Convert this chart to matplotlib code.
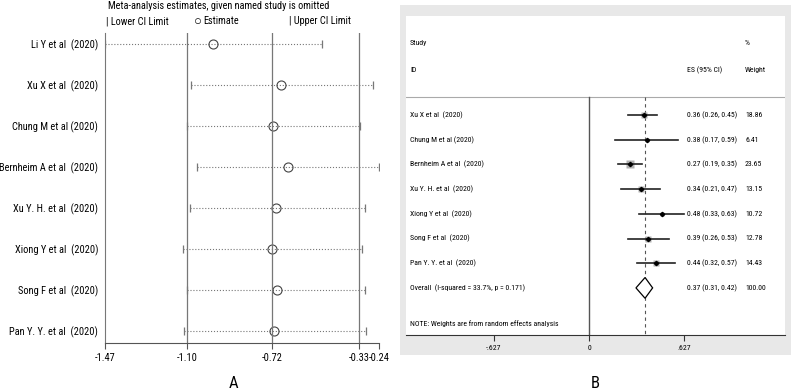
import numpy as np
import matplotlib
matplotlib.use('Agg')
import matplotlib.pyplot as plt
from matplotlib.patches import Polygon

# panel A: leave-one-out sensitivity
studies_a = ['Li Y et al  (2020)', 'Xu X et al  (2020)', 'Chung M et al (2020)',
             'Bernheim A et al  (2020)', 'Xu Y. H. et al  (2020)', 'Xiong Y et al  (2020)',
             'Song F et al  (2020)', 'Pan Y. Y. et al  (2020)']
a_est = [-0.983, -0.680, -0.716, -0.649, -0.702, -0.720, -0.700, -0.711]
a_lo = [-1.47, -1.086, -1.104, -1.055, -1.090, -1.122, -1.100, -1.117]
a_hi = [-0.497, -0.269, -0.327, -0.240, -0.305, -0.318, -0.305, -0.300]
a_ticks = [-1.47, -1.10, -0.72, -0.33, -0.24]
a_lines = [-1.10, -0.72, -0.33]

# panel B: forest plot
studies_b = ['Xu X et al  (2020)', 'Chung M et al (2020)', 'Bernheim A et al  (2020)',
             'Xu Y. H. et al  (2020)', 'Xiong Y et al  (2020)', 'Song F et al  (2020)',
             'Pan Y. Y. et al  (2020)']
b_es = [0.36, 0.38, 0.27, 0.34, 0.48, 0.39, 0.44]
b_lo = [0.26, 0.17, 0.19, 0.21, 0.33, 0.26, 0.32]
b_hi = [0.45, 0.59, 0.35, 0.47, 0.63, 0.53, 0.57]
b_w = [18.86, 6.41, 23.65, 13.15, 10.72, 12.78, 14.43]
overall = (0.37, 0.31, 0.42)
overall_lbl = 'Overall  (I-squared = 33.7%, p = 0.171)'
b_ticks = [-0.627, 0, 0.627]
b_ticklabels = ['-.627', '0', '.627']

FONT = ['Roboto Condensed', 'Liberation Sans Narrow', 'Liberation Sans']
plt.rcParams['font.family'] = FONT

W, H = 791, 392
fig = plt.figure(figsize=(W / 100, H / 100), dpi=100)


def rect(x0, y0, x1, y1):
    return [x0 / W, 1 - y1 / H, (x1 - x0) / W, (y1 - y0) / H]


# gray frame behind panel B
bg = fig.add_axes(rect(400, 5, 791, 355))
bg.set_facecolor('#e8e8e8')
bg.set_xticks([])
bg.set_yticks([])
for s in bg.spines.values():
    s.set_visible(False)

# ---------------- panel A
fa = 7.5
ax = fig.add_axes(rect(105, 33, 379, 343))
n = len(studies_a)
ys = np.arange(n)[::-1] + 1
for y, lo, est, hi in zip(ys, a_lo, a_est, a_hi):
    ax.plot([lo, hi], [y, y], ls=':', color='#777777', lw=0.8)
    ax.plot([lo, hi], [y, y], ls='none', marker='|', ms=6, color='#777777', mew=0.9)
    ax.plot(est, y, marker='o', ms=6.5, mfc='none', mec='#444444', mew=0.8)
for v in a_lines:
    ax.axvline(v, color='#777777', lw=0.9)
ax.set_xlim(a_ticks[0], a_ticks[-1])
ax.set_ylim(0.71, n + 0.27)
ax.set_yticks(ys)
ax.set_yticklabels(studies_a, fontsize=fa)
ax.set_xticks(a_ticks)
ax.set_xticklabels(['%.2f' % t for t in a_ticks], fontsize=fa)
ax.tick_params(axis='y', length=0, pad=5)
ax.tick_params(axis='x', length=4, color='#555555', pad=3)
for s in ['top', 'right']:
    ax.spines[s].set_visible(False)
ax.spines['left'].set_color('#777777')
ax.spines['bottom'].set_color('#555555')

fl = 7.4
fig.text(219 / W, 1 - 6 / H, 'Meta-analysis estimates, given named study is omitted',
         ha='center', va='center', fontsize=fl)
fig.text(106 / W, 1 - 21 / H, '| Lower CI Limit', ha='left', va='center', fontsize=fl)
fig.text(194 / W, 1 - 21 / H, '\u25cb', ha='left', va='center', fontsize=9.5)
fig.text(203 / W, 1 - 21 / H, 'Estimate', ha='left', va='center', fontsize=fl)
fig.text(289 / W, 1 - 21 / H, '| Upper CI Limit', ha='left', va='center', fontsize=fl)
fig.text(233 / W, 1 - 384 / H, 'A', ha='center', va='center', fontsize=12)

# ---------------- panel B
bx = fig.add_axes(rect(406, 16, 785, 335))
px_per_unit = 151.5
bx.set_xlim((406 - 589) / px_per_unit, (785 - 589) / px_per_unit)
row = 24.7
top, bot = (16 - 115) / row, (335 - 115) / row
bx.set_ylim(bot, top)
sep = (97 - 115) / row

bx.axhline(sep, color='#aaaaaa', lw=0.8)
bx.plot([0, 0], [sep, bot], color='#555555', lw=1.0)
bx.plot([overall[0]] * 2, [sep, bot], color='#555555', lw=0.8, ls=(0, (3, 3)))

for i, (es, lo, hi, w) in enumerate(zip(b_es, b_lo, b_hi, b_w)):
    bx.plot([lo, hi], [i, i], color='#222222', lw=1.2, zorder=3)
    bx.plot(es, i, marker='s', ms=5.2 * np.sqrt(w / 23.65), mfc='#b0b0b0', mec='none', zorder=2)
    bx.plot(es, i, marker='D', ms=2.2, color='black', zorder=4)

k = len(studies_b)
es, lo, hi = overall
bx.add_patch(Polygon([(lo, k), (es, k - 0.42), (hi, k), (es, k + 0.42)],
                     closed=True, fc='white', ec='black', lw=0.9, zorder=3))

xl = bx.get_xlim()[0] + 4 / px_per_unit
xes = (687 - 589) / px_per_unit
xw = (745 - 589) / px_per_unit
fs = 5.6
for i, s in enumerate(studies_b):
    bx.text(xl, i, s, fontsize=fs, va='center')
    bx.text(xes, i, '%.2f (%.2f, %.2f)' % (b_es[i], b_lo[i], b_hi[i]), fontsize=fs, va='center')
    bx.text(xw, i, '%.2f' % b_w[i], fontsize=fs, va='center')
bx.text(xl, k, overall_lbl, fontsize=fs, va='center')
bx.text(xes, k, '%.2f (%.2f, %.2f)' % overall, fontsize=fs, va='center')
bx.text(xw, k, '%.2f' % sum(b_w), fontsize=fs, va='center')
bx.text(xl, (324 - 115) / row, 'NOTE: Weights are from random effects analysis', fontsize=fs, va='center')
bx.text(xl, (43 - 115) / row, 'Study', fontsize=fs, va='center')
bx.text(xl, (70 - 115) / row, 'ID', fontsize=fs, va='center')
bx.text(xes, (70 - 115) / row, 'ES (95% CI)', fontsize=fs, va='center')
bx.text(xw, (43 - 115) / row, '%', fontsize=fs, va='center')
bx.text(xw, (70 - 115) / row, 'Weight', fontsize=fs, va='center')

bx.set_yticks([])
bx.set_xticks(b_ticks)
bx.set_xticklabels(b_ticklabels, fontsize=fs)
bx.tick_params(axis='x', length=4, color='#333333', pad=3)
for s in ['top', 'right', 'left']:
    bx.spines[s].set_visible(False)
bx.spines['bottom'].set_color('#333333')
fig.text(595 / W, 1 - 384 / H, 'B', ha='center', va='center', fontsize=12)

fig.savefig('out.png', dpi=100)
